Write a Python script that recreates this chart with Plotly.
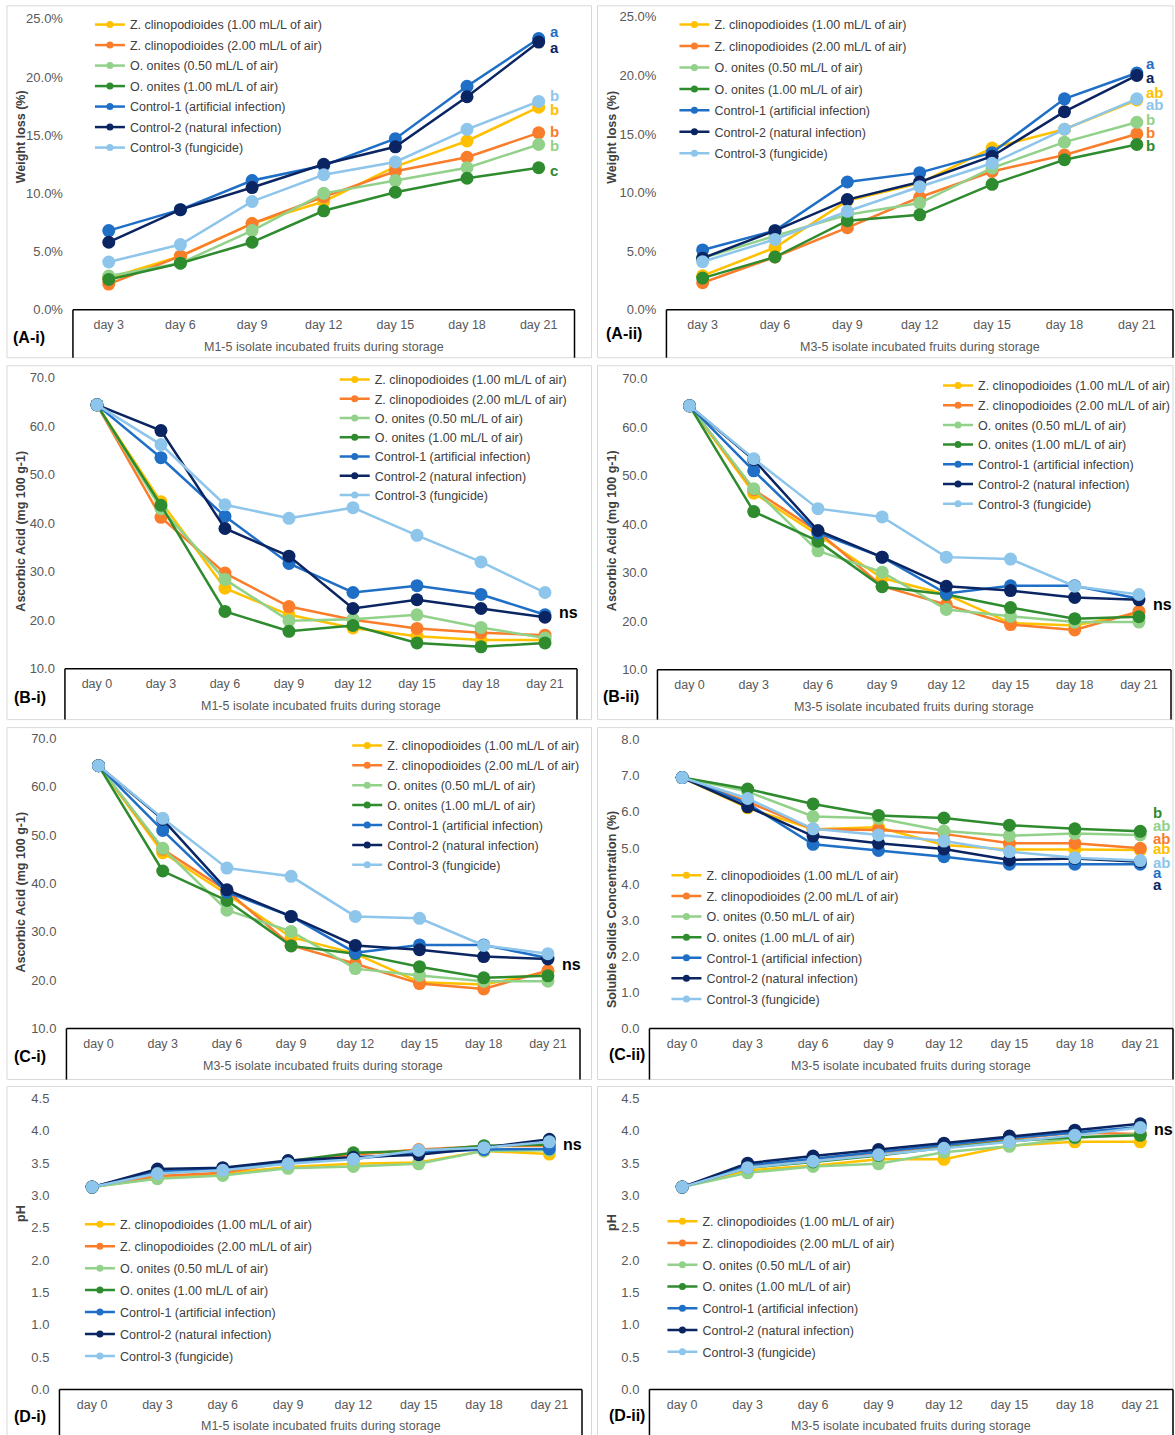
import plotly.graph_objects as go

W, H = 1175, 1435
FONT = "Liberation Sans, Arial, sans-serif"

# ---------------- categories & series ----------------
DAYS_A = ["day 3", "day 6", "day 9", "day 12", "day 15", "day 18", "day 21"]
DAYS_B = ["day 0", "day 3", "day 6", "day 9", "day 12", "day 15", "day 18", "day 21"]

SERIES = [
    "Z. clinopodioides (1.00 mL/L of air)",
    "Z. clinopodioides (2.00 mL/L of air)",
    "O. onites (0.50 mL/L of air)",
    "O. onites (1.00 mL/L of air)",
    "Control-1 (artificial infection)",
    "Control-2 (natural infection)",
    "Control-3 (fungicide)",
]
COLORS = ["#FFC000", "#FA7D2B", "#92D18A", "#2E8B2E", "#1E6FC5", "#0A2562", "#8DC5EB"]

# (A-i) weight loss (%), M1-5 isolate — rows follow SERIES order
weight_loss_m1 = [
    [2.7, 4.6, 7.4, 9.3, 12.3, 14.5, 17.4],
    [2.2, 4.6, 7.4, 9.7, 11.9, 13.1, 15.2],
    [2.9, 4.0, 6.8, 10.0, 11.1, 12.2, 14.2],
    [2.6, 4.0, 5.8, 8.5, 10.1, 11.3, 12.2],
    [6.8, 8.6, 11.1, 12.4, 14.7, 19.2, 23.3],
    [5.8, 8.6, 10.5, 12.5, 14.0, 18.3, 23.0],
    [4.1, 5.6, 9.3, 11.6, 12.7, 15.5, 17.9],
]
# (A-ii) weight loss (%), M3-5 isolate
weight_loss_m3 = [
    [2.9, 5.3, 9.3, 10.8, 13.8, 15.4, 17.9],
    [2.3, 4.5, 7.0, 9.6, 11.8, 13.2, 15.0],
    [4.4, 6.3, 8.1, 9.1, 12.1, 14.3, 16.0],
    [2.7, 4.5, 7.6, 8.1, 10.7, 12.8, 14.1],
    [5.1, 6.75, 10.9, 11.7, 13.4, 18.0, 20.2],
    [4.4, 6.75, 9.4, 10.9, 13.1, 16.9, 20.0],
    [4.1, 6.0, 8.4, 10.5, 12.5, 15.4, 18.0],
]
# (B-i) ascorbic acid, M1-5 isolate
ascorbic_m1 = [
    [64.4, 44.4, 26.6, 21.1, 18.4, 16.7, 15.9, 15.9],
    [64.4, 41.2, 29.7, 22.8, 20.1, 18.3, 17.4, 16.9],
    [64.4, 43.0, 28.4, 19.9, 20.2, 21.1, 18.5, 16.3],
    [64.4, 43.7, 21.8, 17.7, 18.9, 15.3, 14.5, 15.3],
    [64.4, 53.5, 41.4, 31.7, 25.7, 27.1, 25.3, 21.1],
    [64.4, 59.1, 38.9, 33.2, 22.4, 24.2, 22.4, 20.6],
    [64.4, 56.2, 43.8, 41.0, 43.2, 37.5, 32.0, 25.7],
]
# (B-ii) and (C-i) ascorbic acid, M3-5 isolate
ascorbic_m3 = [
    [64.4, 46.4, 37.8, 28.9, 25.5, 19.6, 19.1, 21.7],
    [64.4, 47.1, 38.5, 27.2, 23.4, 19.3, 18.2, 22.0],
    [64.4, 47.3, 34.5, 30.1, 22.4, 21.0, 19.8, 19.8],
    [64.4, 42.6, 36.5, 27.1, 25.5, 22.8, 20.5, 20.9],
    [64.4, 51.0, 38.2, 33.2, 25.7, 27.3, 27.3, 24.6],
    [64.4, 53.3, 38.7, 33.2, 27.2, 26.3, 24.9, 24.4],
    [64.4, 53.5, 43.2, 41.5, 33.2, 32.8, 27.2, 25.5],
]
# (C-ii) soluble solids concentration (%), M3-5 isolate
ssc_m3 = [
    [6.95, 6.11, 5.52, 5.57, 5.08, 4.96, 4.96, 4.94],
    [6.95, 6.28, 5.52, 5.50, 5.39, 5.13, 5.13, 4.99],
    [6.95, 6.56, 5.87, 5.82, 5.47, 5.34, 5.40, 5.36],
    [6.95, 6.63, 6.22, 5.90, 5.83, 5.63, 5.53, 5.46],
    [6.95, 6.23, 5.10, 4.93, 4.76, 4.55, 4.55, 4.55],
    [6.95, 6.14, 5.33, 5.13, 4.97, 4.67, 4.71, 4.62],
    [6.95, 6.37, 5.53, 5.36, 5.19, 4.90, 4.73, 4.65],
]
# (D-i) pH, M1-5 isolate
ph_m1 = [
    [3.13, 3.27, 3.34, 3.44, 3.49, 3.51, 3.69, 3.64],
    [3.13, 3.30, 3.35, 3.52, 3.63, 3.71, 3.76, 3.77],
    [3.13, 3.26, 3.31, 3.42, 3.45, 3.49, 3.69, 3.70],
    [3.13, 3.35, 3.40, 3.53, 3.66, 3.69, 3.77, 3.79],
    [3.13, 3.37, 3.41, 3.52, 3.57, 3.66, 3.71, 3.72],
    [3.13, 3.41, 3.43, 3.54, 3.59, 3.63, 3.74, 3.87],
    [3.13, 3.34, 3.39, 3.49, 3.56, 3.70, 3.74, 3.83],
]
# (D-ii) pH, M3-5 isolate
ph_m3 = [
    [3.13, 3.39, 3.46, 3.56, 3.56, 3.77, 3.83, 3.83],
    [3.13, 3.45, 3.55, 3.66, 3.77, 3.87, 3.97, 3.95],
    [3.13, 3.35, 3.45, 3.49, 3.67, 3.76, 3.89, 3.95],
    [3.13, 3.43, 3.52, 3.62, 3.74, 3.84, 3.90, 3.93],
    [3.13, 3.47, 3.57, 3.67, 3.78, 3.89, 3.98, 4.06],
    [3.13, 3.50, 3.61, 3.71, 3.81, 3.92, 4.01, 4.11],
    [3.13, 3.43, 3.53, 3.63, 3.73, 3.83, 3.93, 4.05],
]

# significance letters (per SERIES order) at day 21
letters_wl_m1 = ["b", "b", "b", "c", "a", "a", "b"]
letters_wl_m3 = ["ab", "b", "b", "b", "a", "a", "ab"]
letters_ssc_m3 = ["ab", "ab", "ab", "b", "a", "a", "ab"]

# ---------------- panel layout (pixels) ----------------
X_TITLE_M1 = "M1-5 isolate incubated fruits during storage"
X_TITLE_M3 = "M3-5 isolate incubated fruits during storage"

panels = [
    dict(tag="(A-i)", cats=DAYS_A, data=weight_loss_m1, box=(73, 575), ypx=(310, 19), yr=(0, 25), dt=5, suf="%",
         ytitle="Weight loss (%)", ytx=20.5, yty=137, xtitle=X_TITLE_M1, tagxy=(29, 338),
         panel=(7, 6, 592, 358), leg=(130, 25, 1.25), letters=letters_wl_m1,
         lety=[17.2, 15.3, 14.1, 12.0, 23.9, 22.5, 18.4], letshift=9, ns=None),
    dict(tag="(A-ii)", cats=DAYS_A, data=weight_loss_m3, box=(667, 1174), ypx=(310, 17), yr=(0, 25), dt=5, suf="%",
         ytitle="Weight loss (%)", ytx=612.5, yty=137, xtitle=X_TITLE_M3, tagxy=(625, 334),
         panel=(598, 6, 1174, 358), leg=(715, 25, 2.2), letters=letters_wl_m3,
         lety=[18.5, 15.1, 16.2, 14.0, 21.0, 19.8, 17.5], letshift=7, ns=None),
    dict(tag="(B-i)", cats=DAYS_B, data=ascorbic_m1, box=(65, 577.5), ypx=(669, 378), yr=(10, 70), dt=10, suf="",
         ytitle="Ascorbic Acid (mg 100 g-1)", ytx=21, yty=531, xtitle=X_TITLE_M1, tagxy=(30, 698),
         panel=(7, 366, 592, 720), leg=(375, 380, 0), letters=None, lety=None, letshift=0, ns=21.5),
    dict(tag="(B-ii)", cats=DAYS_B, data=ascorbic_m3, box=(658, 1172), ypx=(670, 379), yr=(10, 70), dt=10, suf="",
         ytitle="Ascorbic Acid (mg 100 g-1)", ytx=612, yty=531, xtitle=X_TITLE_M3, tagxy=(622, 697),
         panel=(598, 366, 1174, 720), leg=(979, 386, 0.45), letters=None, lety=None, letshift=0, ns=23.4),
    dict(tag="(C-i)", cats=DAYS_B, data=ascorbic_m3, box=(66.5, 580.5), ypx=(1029, 739), yr=(10, 70), dt=10, suf="",
         ytitle="Ascorbic Acid (mg 100 g-1)", ytx=21, yty=892, xtitle=X_TITLE_M3, tagxy=(30, 1057),
         panel=(7, 728, 592, 1080), leg=(387.5, 746, 0.65), letters=None, lety=None, letshift=0, ns=23.2),
    dict(tag="(C-ii)", cats=DAYS_B, data=ssc_m3, box=(650, 1174), ypx=(1029, 740), yr=(0, 8), dt=1, suf="",
         ytitle="Soluble Solids Concentration (%)", ytx=612, yty=910, xtitle=X_TITLE_M3, tagxy=(628, 1055),
         panel=(598, 728, 1174, 1080), leg=(707, 876, 1.35), letters=letters_ssc_m3,
         lety=[4.99, 5.25, 5.61, 5.98, 4.33, 3.98, 4.60], letshift=11, ns=None),
    dict(tag="(D-i)", cats=DAYS_B, data=ph_m1, box=(59.5, 582.5), ypx=(1390, 1099), yr=(0, 4.5), dt=0.5, suf="",
         ytitle="pH", ytx=21.5, yty=1214, xtitle=X_TITLE_M1, tagxy=(30, 1417),
         panel=(7, 1087, 592, 1440), leg=(120, 1225, 2.7), letters=None, lety=None, letshift=0, ns=3.79),
    dict(tag="(D-ii)", cats=DAYS_B, data=ph_m3, box=(650, 1174), ypx=(1390, 1099), yr=(0, 4.5), dt=0.5, suf="",
         ytitle="pH", ytx=613, yty=1223, xtitle=X_TITLE_M3, tagxy=(628, 1416),
         panel=(598, 1087, 1174, 1440), leg=(703, 1222, 2.5), letters=None, lety=None, letshift=0, ns=4.02),
]

# the photographed page maps figure y to screen y as  y_screen ~ 7.2 + 0.9898 * y_fig
Y_OFF, Y_SC = 7.2, 0.9898


def fx(p):
    return p / W


def fy(p):
    return 1 - ((p - Y_OFF) / Y_SC) / H


fig = go.Figure()
layout = dict(
    width=W, height=H, margin=dict(l=0, r=0, t=0, b=0),
    paper_bgcolor="white", plot_bgcolor="rgba(0,0,0,0)",
    font=dict(family=FONT, size=12.5, color="#595959"),
    showlegend=True, hovermode=False,
)
shapes, annotations = [], []

for i, p in enumerate(panels):
    n = i + 1
    sfx = "" if n == 1 else str(n)
    xa, ya = "x" + sfx, "y" + sfx
    lg = "legend" + sfx
    cats = p["cats"]

    for s in range(len(SERIES)):
        fig.add_trace(go.Scatter(
            x=cats, y=p["data"][s], mode="lines+markers",
            line=dict(color=COLORS[s], width=2.5),
            marker=dict(size=13, color=COLORS[s]),
            xaxis=xa, yaxis=ya, showlegend=False, cliponaxis=False,
        ))
    for s in range(len(SERIES)):
        fig.add_trace(go.Scatter(
            x=[None], y=[None], mode="lines+markers", name=SERIES[s],
            line=dict(color=COLORS[s], width=2.5),
            marker=dict(size=7, color=COLORS[s]),
            xaxis=xa, yaxis=ya, legend=lg, legendgroup=f"g{n}_{s}", showlegend=True,
        ))

    L, R = p["box"]
    yb, yt = p["ypx"]
    layout["xaxis" + sfx] = dict(
        domain=[fx(L), fx(R)], anchor=ya, type="category",
        categoryorder="array", categoryarray=cats, range=[-0.5, len(cats) - 0.5],
        showline=False, showgrid=False, zeroline=False, ticks="",
        tickfont=dict(family=FONT, size=12.5, color="#595959"),
        ticklabelstandoff=6, fixedrange=True,
    )
    layout["yaxis" + sfx] = dict(
        domain=[fy(yb), fy(yt)], anchor=xa, range=list(p["yr"]),
        tick0=p["yr"][0], dtick=p["dt"], tickformat=".1f", ticksuffix=p["suf"],
        showline=False, showgrid=False, zeroline=False, ticks="",
        tickfont=dict(family=FONT, size=13, color="#595959"),
        ticklabelstandoff=9, fixedrange=True,
    )
    tx, ty, gap = p["leg"]
    layout[lg] = dict(
        x=fx(tx - 40), y=fy(ty - 14.85), xanchor="left", yanchor="top",
        bgcolor="rgba(0,0,0,0)", borderwidth=0,
        font=dict(family=FONT, size=12.5, color="#404040"),
        traceorder="grouped", tracegroupgap=gap, itemclick=False, itemdoubleclick=False,
    )

    # panel frame
    px0, py0, px1, py1 = p["panel"]
    shapes.append(dict(type="rect", xref="paper", yref="paper",
                       x0=fx(px0), x1=fx(px1), y0=fy(py0), y1=fy(py1),
                       line=dict(color="#D9D9D9", width=1), layer="below"))
    # category-axis box
    for (xa0, ya0, xa1, ya1) in [(L, yb, R, yb), (L, yb, L, py1), (R, yb, R, py1)]:
        shapes.append(dict(type="line", xref="paper", yref="paper",
                           x0=fx(xa0), x1=fx(xa1), y0=fy(ya0), y1=fy(ya1),
                           line=dict(color="#000000", width=1.5)))

    # titles
    annotations.append(dict(text=f"<b>{p['ytitle']}</b>", xref="paper", yref="paper",
                            x=fx(p["ytx"]), y=fy(p["yty"]), textangle=-90, showarrow=False,
                            xanchor="center", yanchor="middle",
                            font=dict(family=FONT, size=12.5, color="#404040")))
    annotations.append(dict(text=p["xtitle"], xref="paper", yref="paper",
                            x=fx((L + R) / 2), y=fy(yb + 37), showarrow=False,
                            xanchor="center", yanchor="middle",
                            font=dict(family=FONT, size=12.5, color="#595959")))
    annotations.append(dict(text=f"<b>{p['tag']}</b>", xref="paper", yref="paper",
                            x=fx(p["tagxy"][0]), y=fy(p["tagxy"][1]), showarrow=False,
                            xanchor="center", yanchor="middle",
                            font=dict(family=FONT, size=16, color="#000000")))
    # significance letters
    if p["letters"]:
        for s, lt in enumerate(p["letters"]):
            annotations.append(dict(text=f"<b>{lt}</b>", xref=xa, yref=ya,
                                    x=cats[-1], y=p["lety"][s], xanchor="left", yanchor="middle",
                                    xshift=p["letshift"], showarrow=False,
                                    font=dict(family=FONT, size=15, color=COLORS[s])))
    if p["ns"] is not None:
        annotations.append(dict(text="<b>ns</b>", xref=xa, yref=ya,
                                x=cats[-1], y=p["ns"], xanchor="left", yanchor="middle",
                                xshift=12, showarrow=False,
                                font=dict(family=FONT, size=16, color="#000000")))

layout["shapes"] = shapes
layout["annotations"] = annotations
fig.update_layout(**layout)
fig.write_html(
    "out.html",
    config=dict(responsive=False, displayModeBar=False),
    post_script="document.body.style.margin='0px';document.body.style.overflow='hidden';",
)
